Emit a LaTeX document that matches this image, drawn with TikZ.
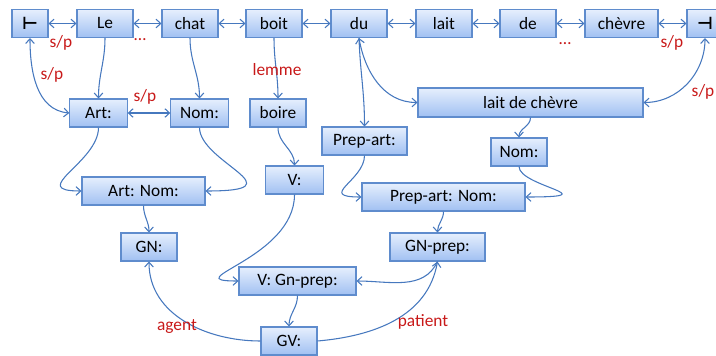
\documentclass[tikz,border=0pt]{standalone}
\usepackage{fontspec}
\setmainfont{Carlito}
\newfontfamily\symfont{DejaVu Sans}
\usetikzlibrary{arrows.meta}
\definecolor{frame}{RGB}{95,140,205}
\definecolor{wire}{RGB}{70,120,190}
\definecolor{paletop}{RGB}{230,239,253}
\definecolor{palebot}{RGB}{160,192,242}
\definecolor{crimson}{RGB}{200,25,25}
\tikzset{
  >={Straight Barb[length=3.5pt,width=6.5pt]},
  box/.style={draw=frame,line width=0.8pt,top color=paletop,bottom color=palebot,
    minimum width=#1,minimum height=21pt,inner sep=0pt,
    font=\fontsize{13}{15}\selectfont},
  box/.default=42pt,
  link/.style={draw=wire,line width=0.8pt},
  lbl/.style={text=crimson,font=\fontsize{13}{15}\selectfont,inner sep=0pt},
}

\begin{document}
\begin{tikzpicture}[x=0.75pt,y=-0.75pt]
  \useasboundingbox (0,0) rectangle (716,356);
  % sentence
  \node[box=27pt] (tl) at (30,23.5) {\symfont\bfseries ⊢};
  \node[box] (le) at (105,23.5) {Le};
  \node[box] (chat) at (190,23.5) {chat};
  \node[box] (boit) at (274,23.5) {boit};
  \node[box] (du) at (359,23.5) {du};
  \node[box] (lait) at (444,23.5) {lait};
  \node[box] (de) at (528,23.5) {de};
  \node[box=54.75pt] (chevre) at (621.5,23.5) {chèvre};
  \node[box=27pt] (tr) at (705,23.5) {\symfont\bfseries ⊣};
  \foreach \a/\b in {tl/le,le/chat,chat/boit,boit/du,du/lait,lait/de,de/chevre,chevre/tr}
    \draw[link,<->] (\a) -- (\b);
  % categories
  \node[box=43pt] (art) at (98.5,113) {Art:};
  \node[box=43pt] (noma) at (199.5,113) {Nom:};
  \node[box] (boire) at (278,113) {boire};
  \node[box=168.75pt,minimum height=21.75pt] (ldc) at (530.5,102.5) {lait de chèvre};
  \node[box=63.75pt] (prepart) at (364.5,141) {Prep-art:};
  \node[box=43pt] (v) at (294.5,180) {V:};
  \node[box] (nomb) at (519,152) {Nom:};
  \node[box=92.25pt] (artnom) at (143.5,191) {Art: Nom:};
  \node[box=122.25pt] (prepnom) at (443.5,197) {Prep-art: Nom:};
  \node[box] (gn) at (149,247) {GN:};
  \node[box=71.25pt] (gnprep) at (437.5,247) {GN-prep:};
  \node[box=87.75pt] (vgn) at (297.5,281) {V: Gn-prep:};
  \node[box] (gv) at (289,341) {GV:};
  % links
  \draw[link,<->] (tl.south) to[out=-90,in=175] (art.west);
  \draw[link,->] (le.south) to[out=-90,in=90] (art.north);
  \draw[link,->] (chat.south) to[out=-90,in=90] (noma.north);
  \draw[link,<->] (art) -- (noma);
  \draw[link,->] (boit.south) to[out=-90,in=90] (boire.north);
  \draw[link,->] (du.south) to[out=-88,in=90] (prepart.north);
  \draw[link,<->] (du.south) to[out=-80,in=180] (ldc.west);
  \draw[link,<->] (tr.south) to[out=-90,in=0] (ldc.east);
  \draw[link,->] (ldc.south) to[out=-90,in=90] (nomb.north);
  \draw[link,->] (art.south) .. controls +(0,35) and +(-55,0) .. (artnom.west);
  \draw[link,->] (noma.south) .. controls +(0,35) and +(95,0) .. (artnom.east);
  \draw[link,->] (artnom.south) to[out=-90,in=90] (gn.north);
  \draw[link,->] (boire.south) to[out=-90,in=90] (v.north);
  \draw[link,->] (prepart.south) .. controls +(0,25) and +(-45,0) .. (prepnom.west);
  \draw[link,->] (nomb.south) .. controls +(0,20) and +(85,0) .. (prepnom.east);
  \draw[link,->] (prepnom.south) to[out=-90,in=90] (gnprep.north);
  \draw[link,->] (v.south) to[out=-90,in=180,looseness=1.6] (vgn.west);
  \draw[link,->] (gnprep.south) to[out=-115,in=0] (vgn.east);
  \draw[link,->] (vgn.south) to[out=-90,in=90] (gv.north);
  \draw[link,->] (gv.west) to[out=180,in=-90] (gn.south);
  \draw[link,->] (gv.east) to[out=5,in=-100] (gnprep.south);
  % labels
  \node[lbl] (sp1) at (61,43) {s/p};
  \node[lbl,anchor=base] (dots1) at (140,41) {…};
  \node[lbl,anchor=base] (dots2) at (565,45) {…};
  \node[lbl] (sp2) at (672,43) {s/p};
  \node[lbl] (sp3) at (52,75) {s/p};
  \node[lbl] (sp4) at (145,97) {s/p};
  \node[lbl] (sp5) at (703,92) {s/p};
  \node[lbl] (lemme) at (277,70) {lemme};
  \node[lbl] (agent) at (177,327) {agent};
  \node[lbl] (patient) at (423,322) {patient};
\end{tikzpicture}
\end{document}
